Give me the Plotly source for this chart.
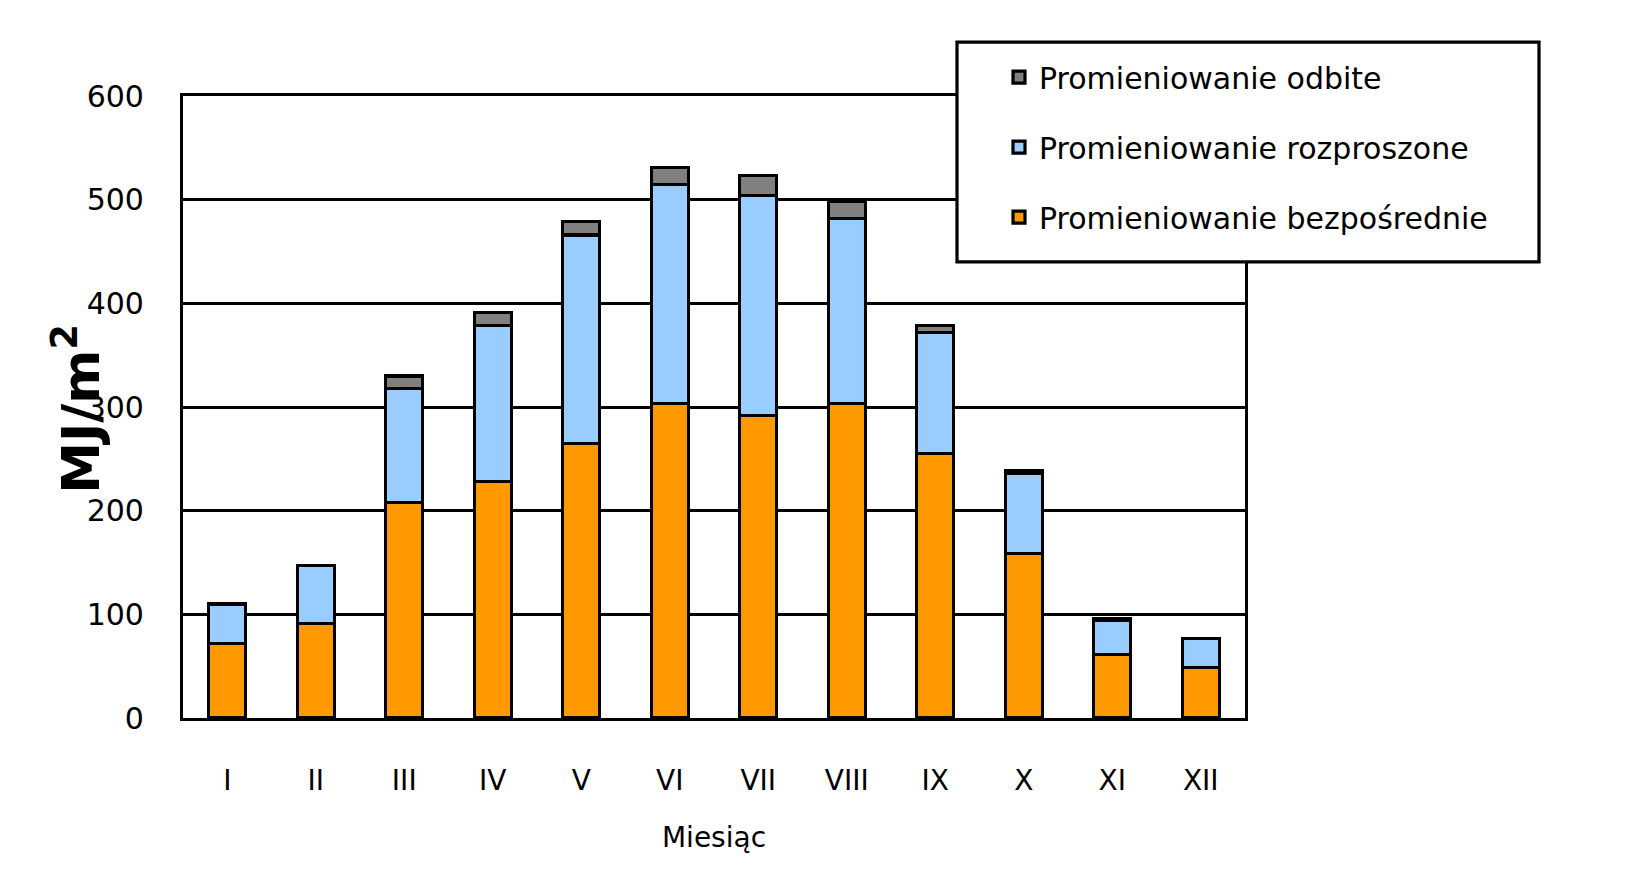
import plotly.graph_objects as go

months = ["I", "II", "III", "IV", "V", "VI", "VII", "VIII", "IX", "X", "XI", "XII"]
direct = [72, 91, 208, 228, 265, 303, 292, 303, 255, 159, 61, 49]
diffuse = [38, 56, 110, 151, 201, 212, 212, 179, 117, 77, 33, 28]
reflected = [0, 0, 12, 12, 13, 16, 19, 16, 7, 3, 2, 0]

names = ["Promieniowanie bezpośrednie", "Promieniowanie rozproszone", "Promieniowanie odbite"]
colors = ["#FF9900", "#99CCFF", "#808080"]
ranks = [3, 2, 1]
y_ticks = [0, 100, 200, 300, 400, 500, 600]

# page body margin of the html page
OFF = 8
W, H = 1640 - 2 * OFF, 893 - 2 * OFF
# plot area in page pixels
L, R, T, B = 183, 1245, 96, 718.5

def px_x(p):
    return (p - L) / (R - L)

def px_y(p):
    return (B - p) / (B - T)

FONT = "DejaVu Sans"

fig = go.Figure()
for vals, name, col, rk in zip([direct, diffuse, reflected], names, colors, ranks):
    fig.add_trace(go.Bar(
        x=months, y=vals, name=name, legendgroup=name, legendrank=rk,
        marker=dict(color=col, line=dict(color="black", width=3.2)),
    ))

fig.update_layout(
    width=W, height=H,
    barmode="stack", bargap=0.58,
    paper_bgcolor="white", plot_bgcolor="white",
    margin=dict(l=L - OFF, r=W - (R - OFF), t=T - OFF, b=H - (B - OFF), pad=0),
    font=dict(family=FONT, color="black"),
    showlegend=True,
    legend=dict(
        x=px_x(999), y=px_y(51), xanchor="left", yanchor="top",
        bgcolor="rgba(0,0,0,0)", borderwidth=0,
        traceorder="grouped", tracegroupgap=28,
        font=dict(family=FONT, size=30, color="black"),
    ),
    xaxis=dict(
        showgrid=False, showline=True, mirror=True, linecolor="black", linewidth=3.2,
        tickfont=dict(family=FONT, size=28), ticklabelstandoff=35, ticks="",
        title=dict(text="Miesiąc", font=dict(family=FONT, size=28), standoff=32),
    ),
    yaxis=dict(
        range=[0, 600], tickvals=y_ticks, ticks="",
        showgrid=True, gridcolor="black", gridwidth=3.2,
        showline=True, mirror=True, linecolor="black", linewidth=3.2,
        zeroline=False,
        tickfont=dict(family=FONT, size=30), ticklabelstandoff=30,
    ),
    shapes=[
        dict(type="rect", xref="paper", yref="paper",
             x0=px_x(957), x1=px_x(1539), y0=px_y(42), y1=px_y(262),
             fillcolor="white", line=dict(color="black", width=3.2), layer="above"),
    ],
    annotations=[
        dict(text="<b>MJ/m<sup>2</sup></b>", xref="paper", yref="paper",
             x=px_x(77), y=px_y(409), xanchor="center", yanchor="middle",
             textangle=-90, showarrow=False,
             font=dict(family=FONT, size=52, color="black")),
    ],
)

fig.write_html("out.html")
